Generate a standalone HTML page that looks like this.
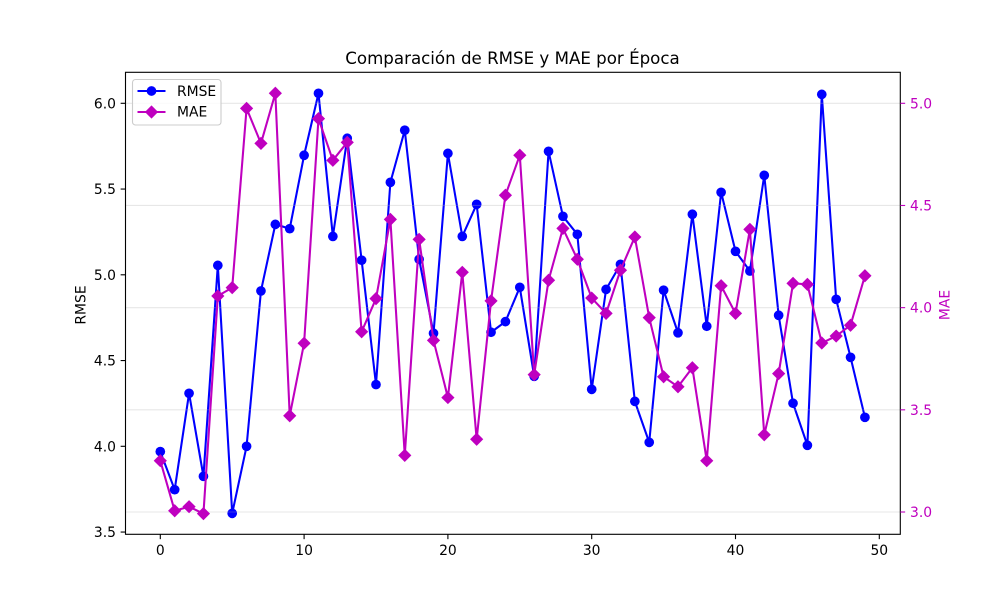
<!DOCTYPE html>
<html lang="es">
<head>
<meta charset="utf-8">
<title>Comparación de RMSE y MAE por Época</title>
<style>
html,body{margin:0;padding:0;background:#fff;}
svg{display:block;font-family:"DejaVu Sans",sans-serif;}
</style>
</head>
<body>
<svg id="chart" xmlns="http://www.w3.org/2000/svg" width="1000" height="600" viewBox="0 0 1000 600">
  <rect x="0" y="0" width="1000" height="600" fill="#ffffff"/>
  <text x="512.5" y="64" font-size="16.67" text-anchor="middle" fill="#000">Comparación de RMSE y MAE por Época</text>
  <g id="rmse-layer"></g>
  <g id="grid-layer"></g>
  <g id="mae-layer"></g>
  <g id="axes-layer"></g>
  <text transform="translate(85.5,305) rotate(-90)" font-size="13.89" text-anchor="middle" fill="#000">RMSE</text>
  <text transform="translate(949.5,305) rotate(-90)" font-size="13.89" text-anchor="middle" fill="#bf00bf">MAE</text>
  <g>
    <rect x="132.5" y="79.5" width="88.5" height="45.5" rx="3" ry="3" fill="#ffffff" fill-opacity="0.8" stroke="#cccccc" stroke-width="1.1"/>
    <g>
      <line x1="137.5" y1="91" x2="165.5" y2="91" stroke="#0000ff" stroke-width="2.08"/>
      <circle cx="151.5" cy="91" r="4.85" fill="#0000ff"/>
      <text x="177" y="96" font-size="13.89" fill="#000">RMSE</text>
    </g>
    <g>
      <line x1="137.5" y1="112" x2="165.5" y2="112" stroke="#bf00bf" stroke-width="2.08"/>
      <polygon points="151.5,105.4 158.1,112 151.5,118.6 144.9,112" fill="#bf00bf"/>
      <text x="177" y="116.5" font-size="13.89" fill="#000">MAE</text>
    </g>
  </g>
</svg>
<script>
const epochs = [0,1,2,3,4,5,6,7,8,9,10,11,12,13,14,15,16,17,18,19,20,21,22,23,24,25,26,27,28,29,30,31,32,33,34,35,36,37,38,39,40,41,42,43,44,45,46,47,48,49];
const rmseValues = [3.969,3.747,4.309,3.825,5.055,3.609,4.0,4.906,5.294,5.269,5.697,6.058,5.224,5.796,5.085,4.36,5.539,5.843,5.09,4.659,5.708,5.224,5.411,4.665,4.727,4.927,4.408,5.72,5.341,5.236,4.332,4.915,5.061,4.262,4.023,4.91,4.662,5.353,4.7,5.481,5.137,5.022,5.58,4.764,4.251,4.006,6.052,4.857,4.519,4.169];
const maeValues = [3.251,3.006,3.026,2.992,4.057,4.098,4.975,4.804,5.049,3.471,3.826,4.925,4.721,4.809,3.882,4.044,4.432,3.277,4.334,3.84,3.56,4.173,3.356,4.033,4.55,4.746,3.672,4.134,4.388,4.237,4.047,3.972,4.183,4.346,3.951,3.662,3.613,3.706,3.251,4.107,3.972,4.383,3.378,3.677,4.119,4.114,3.827,3.861,3.914,4.156];
const xTicks = [0,10,20,30,40,50];
const leftTicks = ["3.5","4.0","4.5","5.0","5.5","6.0"];
const rightTicks = ["3.0","3.5","4.0","4.5","5.0"];

const plotLeft = 125.5, plotRight = 900.3, plotTop = 72.3, plotBottom = 534.3;
const MAGENTA = '#bf00bf', BLUE = '#0000ff';
function xScale(v){ return 160.3 + v * 14.38; }
function yLeft(v){ return 103.3 + (6 - v) * 171.5; }
function yRight(v){ return 103.3 + (5 - v) * 204.35; }
const NS = 'http://www.w3.org/2000/svg';
function make(tag, parent, attrs){
  const el = document.createElementNS(NS, tag);
  for (const k in attrs) el.setAttribute(k, attrs[k]);
  parent.appendChild(el);
  return el;
}

const rmseLayer = document.getElementById('rmse-layer');
const gridLayer = document.getElementById('grid-layer');
const maeLayer = document.getElementById('mae-layer');
const axesLayer = document.getElementById('axes-layer');

// RMSE series
const rmseLine = make('polyline', rmseLayer, {
  points: epochs.map((e,i)=>xScale(e)+','+yLeft(rmseValues[i])).join(' '),
  fill: 'none', stroke: BLUE, 'stroke-width': 2.08, 'stroke-linejoin': 'round'
});


epochs.forEach((e,i)=>{
  const pt = make('circle', rmseLayer, {cx: xScale(e), cy: yLeft(rmseValues[i]), r: 4.85, fill: BLUE});
  
  
});

// Gridlines follow the right axis ticks
rightTicks.forEach(t=>{
  const y = yRight(parseFloat(t));
  const g = make('line', gridLayer, {x1: plotLeft, x2: plotRight, y1: y, y2: y, stroke: '#b0b0b0', 'stroke-opacity': 0.3, 'stroke-width': 1.11});
  
  
});

// MAE series
const maeLine = make('polyline', maeLayer, {
  points: epochs.map((e,i)=>xScale(e)+','+yRight(maeValues[i])).join(' '),
  fill: 'none', stroke: MAGENTA, 'stroke-width': 2.08, 'stroke-linejoin': 'round'
});


epochs.forEach((e,i)=>{
  const cx = xScale(e), cy = yRight(maeValues[i]), d = 6.6;
  const pt = make('polygon', maeLayer, {
    points: cx+','+(cy-d)+' '+(cx+d)+','+cy+' '+cx+','+(cy+d)+' '+(cx-d)+','+cy,
    fill: MAGENTA
  });
  
  
});

// Spines
const frame = make('rect', axesLayer, {x: plotLeft, y: plotTop, width: plotRight-plotLeft, height: plotBottom-plotTop, fill: 'none', stroke: '#000', 'stroke-width': 1.11});



// X axis ticks
xTicks.forEach(t=>{
  const x = xScale(t);
  const tick = make('line', axesLayer, {x1: x, x2: x, y1: plotBottom, y2: plotBottom+4.86, stroke: '#000', 'stroke-width': 1.11});
  
  
  const lab = make('text', axesLayer, {x: x, y: 555, 'font-size': 13.89, 'text-anchor': 'middle', fill: '#000'});
  lab.textContent = t;
  
  
});

// Left axis ticks
leftTicks.forEach(t=>{
  const y = yLeft(parseFloat(t));
  const tick = make('line', axesLayer, {x1: plotLeft-4.86, x2: plotLeft, y1: y, y2: y, stroke: '#000', 'stroke-width': 1.11});
  
  
  const lab = make('text', axesLayer, {x: 116, y: y+5, 'font-size': 13.89, 'text-anchor': 'end', fill: '#000'});
  lab.textContent = t;
  
  
});

// Right axis ticks
rightTicks.forEach(t=>{
  const y = yRight(parseFloat(t));
  const tick = make('line', axesLayer, {x1: plotRight, x2: plotRight+4.86, y1: y, y2: y, stroke: MAGENTA, 'stroke-width': 1.11});
  
  
  const lab = make('text', axesLayer, {x: 910, y: y+5, 'font-size': 13.89, 'text-anchor': 'start', fill: MAGENTA});
  lab.textContent = t;
  
  
});
</script>
</body>
</html>
